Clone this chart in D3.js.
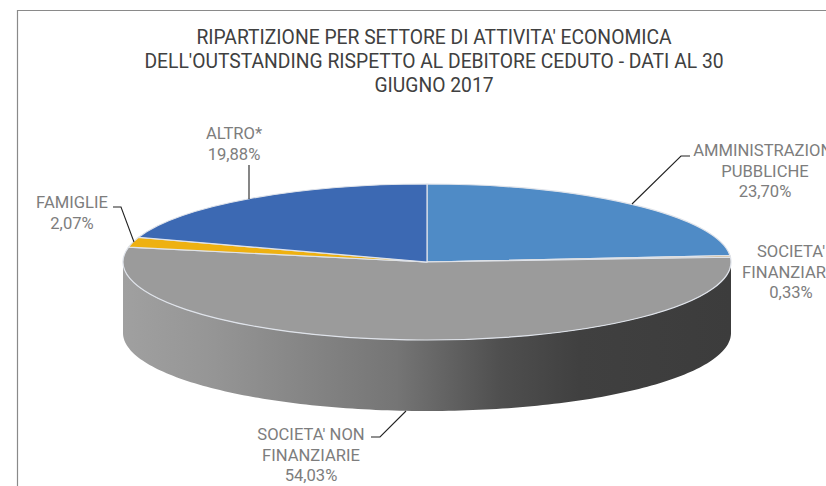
<!DOCTYPE html>
<html><head><meta charset="utf-8">
<script src="https://cdn.jsdelivr.net/npm/d3@7"></script>
<style>html,body{margin:0;padding:0;background:#fff;overflow:hidden}svg{display:block}text{font-family:Roboto,sans-serif}</style>
</head><body><svg id="c" width="826" height="486"></svg>
<script>
const categories = ["AMMINISTRAZIONI PUBBLICHE","SOCIETA' FINANZIARIE","SOCIETA' NON FINANZIARIE","FAMIGLIE","ALTRO*"];
const values = [23.70,0.33,54.03,2.07,19.88];
const valueLabels = ["23,70%","0,33%","54,03%","2,07%","19,88%"];
const colors = ["#4f8bc6","#c9a66b","#9b9b9b","#eeb111","#3c69b3"];
const titleLines = ["RIPARTIZIONE PER SETTORE DI ATTIVITA' ECONOMICA","DELL'OUTSTANDING RISPETTO AL DEBITORE CEDUTO - DATI AL 30","GIUGNO 2017"];
const labelLines = [["AMMINISTRAZIONI","PUBBLICHE"],["SOCIETA'","FINANZIARIE"],["SOCIETA' NON","FINANZIARIE"],["FAMIGLIE"],["ALTRO*"]];
const labelPos = [[765,156],[791,257],[311,440],[72,208],[234,139]];
const leaders = [[[632,204],[681,156],[690,156]],null,[[406,411],[380,437],[371,437]],[[134,242],[121,207],[113,207]],[[249,199],[249,165]]];

const svg = d3.select("#c");
const W=826,H=486,cx=427,cy=262,rx=304,ry=78,depth=71;
svg.append("path").attr("d",`M17.5,${H}V10.5H${W}`).attr("fill","none").attr("stroke","#8a8a8a").attr("stroke-width",1.2);

const titleG = svg.append("g").attr("text-anchor","middle").attr("fill","#404040").attr("font-size",19.3);
titleLines.forEach((s,i)=>titleG.append("text").attr("x",434).attr("y",44+i*24).text(s));

const defs = svg.append("defs");
const g = defs.append("linearGradient").attr("id","side").attr("gradientUnits","userSpaceOnUse")
  .attr("x1",cx-rx).attr("x2",cx+rx).attr("y1",0).attr("y2",0);
[[0,"#a0a0a0"],[0.15,"#959595"],[0.45,"#757575"],[0.62,"#4f4f4f"],[0.75,"#404040"],[1,"#3c3c3c"]]
  .forEach(([o,c])=>g.append("stop").attr("offset",o).attr("stop-color",c));

const pie = d3.pie().sort(null).value(d=>d)(values);
const px = a=>cx+rx*Math.sin(a), py = a=>cy-ry*Math.cos(a);
const angles = d3.range(Math.PI/2,Math.PI*1.5+0.001,0.02);
const wall = d3.area().x(a=>px(a)).y0(a=>py(a)).y1(a=>py(a)+depth);
svg.append("path").attr("d",wall(angles)).attr("fill","url(#side)");

const arc = d3.arc().innerRadius(0).outerRadius(rx);
const topFace = svg.append("g").attr("transform",`translate(${cx},${cy}) scale(1,${ry/rx})`);
topFace.selectAll("path").data(pie).join("path").attr("d",arc).attr("fill",(d,i)=>colors[i])
  .attr("stroke","#dfe3ea").attr("stroke-width",1.2).attr("vector-effect","non-scaling-stroke");

const line = d3.line();
leaders.forEach(p=>{ if(p) svg.append("path").attr("d",line(p)).attr("fill","none").attr("stroke","#222").attr("stroke-width",1.1); });

const lab = svg.append("g").attr("text-anchor","middle").attr("fill","#7d7d7d").attr("font-size",16.6);
labelLines.forEach((ls,i)=>{
  const [lx,ly]=labelPos[i];
  [...ls,valueLabels[i]].forEach((s,j)=>lab.append("text").attr("x",lx).attr("y",ly+j*20.7).text(s));
});
</script></body></html>
